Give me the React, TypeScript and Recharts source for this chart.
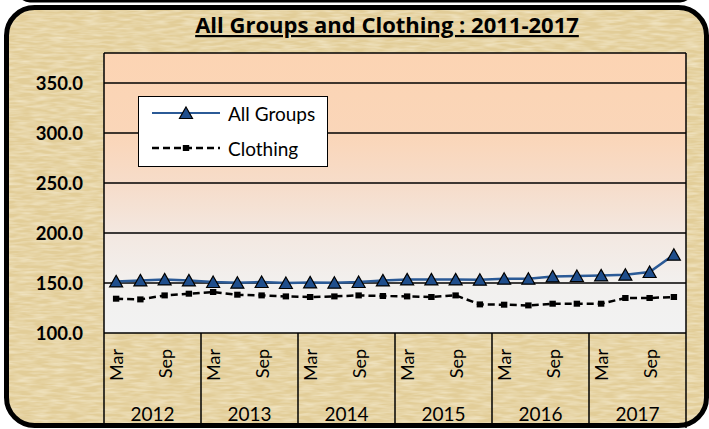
import { LineChart, Line, XAxis, YAxis, CartesianGrid, Legend } from 'recharts';

const years = ['2012', '2013', '2014', '2015', '2016', '2017'];
const months = ['Mar', 'Jun', 'Sep', 'Dec'];
const shownMonths = ['Mar', 'Sep'];

const allGroups = [
  151.6, 152.6, 153.6, 152.6, 151.0, 150.3, 151.0, 150.0, 150.6, 150.3, 151.0, 152.6,
  153.6, 153.6, 153.6, 153.3, 154.3, 154.3, 156.6, 157.0, 157.6, 158.3, 161.0, 178.3,
];
const clothing = [
  134.3, 133.6, 137.6, 139.3, 141.0, 138.3, 137.6, 136.6, 136.0, 136.6, 137.6, 137.0,
  136.6, 136.0, 137.6, 128.6, 128.3, 127.6, 129.3, 129.3, 129.3, 135.0, 135.0, 136.0,
];
const yTicks = [100, 150, 200, 250, 300, 350];
const yDomain = [100, 380];

const data = years.flatMap((year, yi) =>
  months.map((month, mi) => {
    const i = yi * months.length + mi;
    return { key: `${month} ${year}`, year, month, allGroups: allGroups[i], clothing: clothing[i] };
  })
);

const W = 709;
const H = 429;
const Y_AXIS_W = 104;
const MARGIN = { top: 53, right: 23, bottom: 4, left: 0 };
const X_AXIS_H = 92;
const BAND = (W - Y_AXIS_W - MARGIN.right) / data.length;
const FONT = 'Lato, "Open Sans", sans-serif';
const TITLE_FONT = '"Open Sans", Lato, sans-serif';
const BLUE = '#2b5a96';
const TRI_FILL = '#1f4e8c';

function TriangleDot(props: any) {
  const { cx, cy, index } = props;
  if (cx == null || cy == null) return null;
  return (
    <path
      key={`tri-${index}`}
      d={`M${cx},${cy - 6} L${cx + 6.5},${cy + 5.5} L${cx - 6.5},${cy + 5.5} Z`}
      fill={TRI_FILL}
      stroke="#000"
      strokeWidth={1.2}
    />
  );
}

function SquareDot(props: any) {
  const { cx, cy, index } = props;
  if (cx == null || cy == null) return null;
  return <rect key={`sq-${index}`} x={cx - 3.2} y={cy - 3} width={6.4} height={6} fill="#000" />;
}

function MonthYearTick(props: any) {
  const { x, y, payload } = props;
  const i = payload.index;
  const row = data[i];
  if (!row) return null;
  const mi = months.indexOf(row.month);
  return (
    <g>
      {shownMonths.includes(row.month) && (
        <text
          transform={`translate(${x + 7},${y + 16}) rotate(-90)`}
          textAnchor="end"
          fontSize={18}
          fontFamily={FONT}
          fill="#000"
        >
          {row.month}
        </text>
      )}
      {mi === 0 && (
        <line x1={x - BAND / 2} x2={x - BAND / 2} y1={y} y2={y + 95} stroke="#000" strokeWidth={1.5} />
      )}
      {i === data.length - 1 && (
        <line x1={x + BAND / 2} x2={x + BAND / 2} y1={y} y2={y + 95} stroke="#000" strokeWidth={1.5} />
      )}
      {mi === 1 && (
        <text x={x + BAND / 2} y={y + 88} textAnchor="middle" fontSize={19} fontFamily={FONT} fill="#000">
          {row.year}
        </text>
      )}
    </g>
  );
}

function LegendBox() {
  return (
    <div
      style={{
        width: 190,
        height: 71,
        boxSizing: 'border-box',
        background: '#fff',
        border: '1.5px solid #000',
        position: 'relative',
        fontFamily: FONT,
      }}
    >
      <svg width={187} height={68} style={{ position: 'absolute', left: 0, top: 0 }}>
        <line x1={13} x2={81} y1={16} y2={16} stroke={BLUE} strokeWidth={2} />
        <TriangleDot cx={47} cy={16} index={0} />
        <text x={89} y={16} dominantBaseline="central" fontSize={19} fill="#000">
          All Groups
        </text>
        <line x1={13} x2={81} y1={51} y2={51} stroke="#000" strokeWidth={2.5} strokeDasharray="7 4" />
        <SquareDot cx={47} cy={51} index={0} />
        <text x={89} y={51} dominantBaseline="central" fontSize={19} fill="#000">
          Clothing
        </text>
      </svg>
    </div>
  );
}

// grid lines at the y ticks plus the top of the domain, and the plot's left/right edges
const horizontalLines = (args: any) => {
  const { yAxis, offset } = args;
  const values = [...yTicks, yDomain[1]];
  if (yAxis && typeof yAxis.scale === 'function') return values.map((v) => yAxis.scale(v));
  const span = yDomain[1] - yDomain[0];
  return values.map((v) => offset.top + (offset.height * (yDomain[1] - v)) / span);
};
const verticalLines = (args: any) => {
  const { offset } = args;
  return [offset.left, offset.left + offset.width];
};

export default function App() {
  return (
    <div style={{ position: 'absolute', left: 0, top: 0, width: W, height: H, background: '#fff', overflow: 'hidden' }}>
      <svg width={W} height={H} style={{ position: 'absolute', left: 0, top: 0 }}>
        <defs>
          <filter id="paper" x="0" y="0" width="100%" height="100%">
            <feTurbulence type="fractalNoise" baseFrequency="0.06 0.35" numOctaves={2} seed={7} result="noise" />
            <feColorMatrix
              in="noise"
              type="matrix"
              values="0 0 0 0 1  0 0 0 0 0.96  0 0 0 0 0.84  0.9 0 0 0 -0.3"
            />
            <feComposite in2="SourceGraphic" operator="in" />
          </filter>
        </defs>
        <rect x={18} y={-20} width={674} height={22.5} rx={12} fill="#000" />
        <rect x={6.5} y={7.5} width={700} height={418} rx={28} fill="#e2cd98" />
        <rect x={6.5} y={7.5} width={700} height={418} rx={28} fill="#e2cd98" filter="url(#paper)" />
        <rect x={6.5} y={7.5} width={700} height={418} rx={28} fill="none" stroke="#000" strokeWidth={5} />
        <text
          x={387}
          y={33}
          textAnchor="middle"
          fontFamily={TITLE_FONT}
          fontWeight={700}
          fontSize={22}
          fill="#000"
          textDecoration="underline"
        >
          All Groups and Clothing : 2011-2017
        </text>
      </svg>
      <div style={{ position: 'absolute', left: 0, top: 0 }}>
        <LineChart width={W} height={H} data={data} margin={MARGIN} style={{ fontFamily: FONT }}>
          <defs>
            <linearGradient id="plotBg" x1="0" y1="0" x2="0" y2="1">
              <stop offset="0%" stopColor="#fcd4b3" />
              <stop offset="30%" stopColor="#fad6b9" />
              <stop offset="48%" stopColor="#f6ddcb" />
              <stop offset="65%" stopColor="#f3e8e1" />
              <stop offset="82%" stopColor="#f2f0ee" />
              <stop offset="100%" stopColor="#f2f2f2" />
            </linearGradient>
          </defs>
          <CartesianGrid
            stroke="#000"
            strokeWidth={1.5}
            fill="url(#plotBg)"
            fillOpacity={1}
            horizontalCoordinatesGenerator={horizontalLines}
            verticalCoordinatesGenerator={verticalLines}
          />
          <XAxis
            dataKey="key"
            height={X_AXIS_H}
            interval={0}
            padding={{ left: BAND / 2, right: BAND / 2 }}
            tickLine={false}
            axisLine={false}
            tickSize={0}
            tickMargin={0}
            tick={(p: any) => <MonthYearTick {...p} />}
          />
          <YAxis
            width={Y_AXIS_W}
            domain={yDomain}
            ticks={yTicks}
            allowDataOverflow
            tickLine={false}
            axisLine={false}
            tickSize={0}
            tickMargin={21}
            tickFormatter={(v: number) => v.toFixed(1)}
            tick={{ fontSize: 18.5, fontWeight: 700, fill: '#000', fontFamily: FONT }}
          />
          <Legend
            layout="vertical"
            align="center"
            verticalAlign="middle"
            content={() => <LegendBox />}
            wrapperStyle={{ left: 138, top: 96, width: 190, height: 71 }}
          />
          <Line
            type="linear"
            dataKey="clothing"
            name="Clothing"
            stroke="#000"
            strokeWidth={2.5}
            strokeDasharray="7 4"
            dot={(p: any) => <SquareDot {...p} key={`sq-${p.index}`} />}
            activeDot={false}
            isAnimationActive={false}
          />
          <Line
            type="linear"
            dataKey="allGroups"
            name="All Groups"
            stroke={BLUE}
            strokeWidth={2.5}
            dot={(p: any) => <TriangleDot {...p} key={`tri-${p.index}`} />}
            activeDot={false}
            isAnimationActive={false}
          />
        </LineChart>
      </div>
    </div>
  );
}
